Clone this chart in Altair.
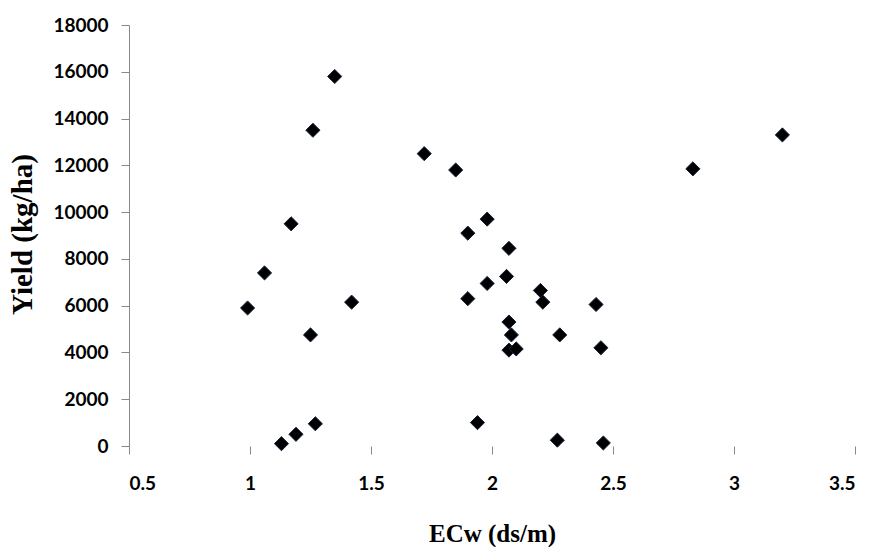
import altair as alt
import pandas as pd

ecw = [0.99, 1.06, 1.13, 1.19, 1.17, 1.26, 1.25, 1.27, 1.35, 1.42,
       1.72, 1.85, 1.90, 1.98, 2.07, 2.06, 1.98, 1.90, 2.07, 2.08,
       2.07, 2.10, 1.94, 2.20, 2.21, 2.28, 2.27, 2.43, 2.45, 2.46,
       2.83, 3.20]
yield_kg = [5900, 7400, 100, 500, 9500, 13500, 4750, 950, 15800, 6150,
            12500, 11800, 9100, 9700, 8450, 7250, 6950, 6300, 5300, 4750,
            4100, 4150, 1000, 6650, 6150, 4750, 250, 6050, 4200, 130,
            11850, 13300]
x_ticks = [0.5, 1, 1.5, 2, 2.5, 3, 3.5]
y_ticks = list(range(0, 18001, 2000))

df = pd.DataFrame({"ECw": ecw, "Yield": yield_kg})

label_font = "Lato"
title_font = "Liberation Serif"
grey = "#888888"

chart = alt.Chart(df).mark_point(
    shape="diamond", filled=True, size=200, color="black",
    stroke="#14223f", strokeWidth=1, opacity=1
).encode(
    x=alt.X("ECw:Q",
            scale=alt.Scale(domain=[0.5, 3.5], nice=False, zero=False),
            axis=alt.Axis(values=x_ticks, format="~g", grid=False, domain=False,
                          tickColor=grey, tickSize=8, tickWidth=1,
                          labelFont=label_font, labelFontSize=19, labelFontWeight="bold",
                          labelColor="black", labelPadding=20,
                          title="ECw (ds/m)", titleFont=title_font, titleFontSize=25,
                          titleFontWeight="bold", titleColor="black",
                          titleY=87, titleBaseline="middle")),
    y=alt.Y("Yield:Q",
            scale=alt.Scale(domain=[0, 18000], nice=False),
            axis=alt.Axis(values=y_ticks, format="d", grid=False,
                          domainColor=grey, domainWidth=1,
                          tickColor=grey, tickSize=8, tickWidth=1,
                          labelFont=label_font, labelFontSize=19, labelFontWeight="bold",
                          labelColor="black", labelPadding=13,
                          title="Yield (kg/ha)", titleFont=title_font, titleFontSize=29,
                          titleFontWeight="bold", titleColor="black",
                          titleX=-107, titleY=209, titleAngle=-90,
                          titleBaseline="middle", titleAlign="center")),
).properties(
    width=726, height=421,
    autosize=alt.AutoSizeParams(type="none"),
    padding={"left": 129, "top": 25, "right": 17, "bottom": 101},
    background="white",
).configure_view(stroke=None)

chart.save("out.html", embed_options={"renderer": "svg", "actions": False})
